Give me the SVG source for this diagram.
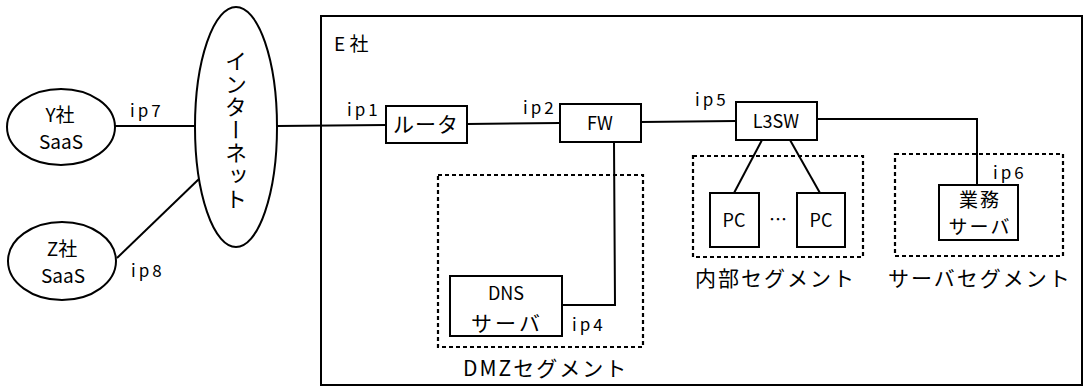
<svg xmlns="http://www.w3.org/2000/svg" width="1087" height="387" viewBox="0 0 1087 387">
<style>
.s{fill:#fff;stroke:#000;stroke-width:2}
.b{fill:none;stroke:#000;stroke-width:2}
.d{fill:none;stroke:#000;stroke-width:2.2;stroke-dasharray:4 3}
.c{stroke:#000;stroke-width:2;fill:none}
text{font-family:"Noto Sans CJK JP","DejaVu Sans",sans-serif;font-size:18px;fill:#000}
.m{text-anchor:middle}
.ip{letter-spacing:3px;font-size:17px}
.v{writing-mode:vertical-rl;font-size:22px;letter-spacing:1px}
.seg{font-size:21px;letter-spacing:2px}
.j{font-size:21px;letter-spacing:1px}
.k{font-size:19px;letter-spacing:2px}
</style>
<rect width="1087" height="387" fill="#fff"/>
<g id="ecompany">
<rect class="b" x="321" y="16" width="761" height="369"/>
<text x="334" y="51" style="font-size:19px">E 社</text>
</g>
<g id="segments">
<rect class="d" x="438" y="175" width="205" height="172"/>
<text class="seg" x="463" y="376">DMZセグメント</text>
<rect class="d" x="693" y="156" width="170" height="101"/>
<text class="seg" x="695" y="286">内部セグメント</text>
<rect class="d" x="895" y="154" width="168" height="102"/>
<text class="seg" x="888" y="286">サーバセグメント</text>
</g>
<g id="connectors">
<line class="c" x1="115" y1="126" x2="196" y2="126"/>
<line class="c" x1="117" y1="258" x2="200" y2="178"/>
<line class="c" x1="277" y1="126" x2="386" y2="125"/>
<line class="c" x1="467" y1="124" x2="560" y2="123"/>
<line class="c" x1="641" y1="122" x2="736" y2="121"/>
<polyline class="c" points="614,142 615,305 562,305"/>
<polyline class="c" points="817,119 977,119 977,185"/>
<line class="c" x1="762" y1="140" x2="734" y2="193"/>
<line class="c" x1="790" y1="140" x2="820" y2="193"/>
</g>
<g id="labels">
<text class="ip" x="130" y="117">ip7</text>
<text class="ip" x="131" y="277">ip8</text>
<text class="ip" x="347" y="116">ip1</text>
<text class="ip" x="523" y="114">ip2</text>
<text class="ip" x="695" y="106">ip5</text>
<text class="ip" x="993" y="179">ip6</text>
<text class="ip" x="572" y="331">ip4</text>
</g>
<g id="ysaas">
<ellipse class="s" cx="61" cy="127" rx="54" ry="38"/>
<text class="m" x="60" y="122" style="font-size:19px">Y社</text>
<text class="m" x="61" y="149" style="font-size:19px">SaaS</text>
</g>
<g id="zsaas">
<ellipse class="s" cx="62" cy="261" rx="54" ry="39"/>
<text class="m" x="62" y="256" style="font-size:19px">Z社</text>
<text class="m" x="63" y="283" style="font-size:19px">SaaS</text>
</g>
<g id="internet">
<ellipse class="s" cx="236" cy="127" rx="41" ry="120"/>
<text class="m v" x="236" y="130">インターネット</text>
</g>
<g id="router">
<rect class="s" x="386" y="106" width="81" height="37"/>
<text class="m j" x="426" y="132">ルータ</text>
</g>
<g id="fw">
<rect class="s" x="560" y="104" width="81" height="38"/>
<text class="m" x="600" y="130">FW</text>
</g>
<g id="l3sw">
<rect class="s" x="736" y="102" width="81" height="38"/>
<text class="m" x="776" y="128">L3SW</text>
</g>
<g id="pc1">
<rect class="s" x="710" y="193" width="49" height="54"/>
<text class="m" x="734" y="227">PC</text>
</g>
<text class="m" x="778" y="226">…</text>
<g id="pc2">
<rect class="s" x="797" y="193" width="48" height="54"/>
<text class="m" x="821" y="227">PC</text>
</g>
<g id="dns">
<rect class="s" x="450" y="276" width="112" height="60"/>
<text class="m" x="506" y="300">DNS</text>
<text class="m j" x="507" y="331" style="letter-spacing:3px">サーバ</text>
</g>
<g id="gyomu">
<rect class="s" x="939" y="185" width="79" height="55"/>
<text class="m k" x="980" y="207">業務</text>
<text class="m k" x="980" y="234">サーバ</text>
</g>
</svg>
